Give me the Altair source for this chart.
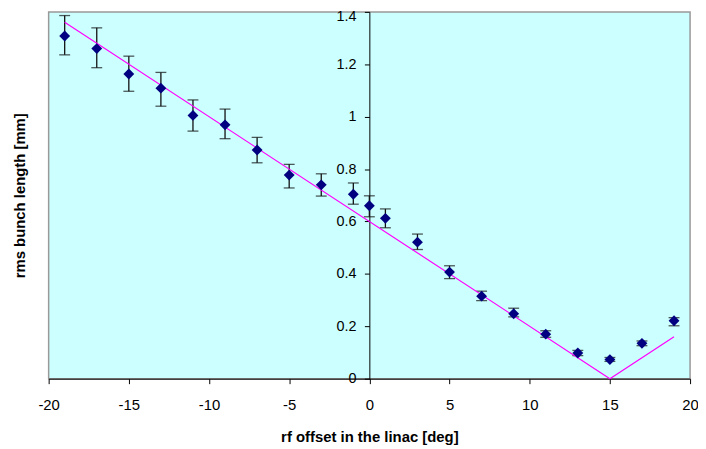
import altair as alt
import pandas as pd

# data
offset_deg = [-19, -17, -15, -13, -11, -9, -7, -5, -3, -1, 0, 1, 3, 5, 7, 9, 11, 13, 15, 17, 19]
bunch_len = [1.308, 1.260, 1.163, 1.109, 1.005, 0.969, 0.873, 0.777, 0.740, 0.704, 0.660,
             0.612, 0.521, 0.407, 0.315, 0.248, 0.170, 0.098, 0.073, 0.135, 0.221]
err_hi = [1.386, 1.339, 1.231, 1.169, 1.064, 1.029, 0.921, 0.818, 0.782, 0.747, 0.698,
          0.648, 0.552, 0.431, 0.334, 0.269, 0.183, 0.108, 0.081, 0.144, 0.233]
err_lo = [1.236, 1.187, 1.097, 1.040, 0.945, 0.916, 0.824, 0.728, 0.697, 0.666, 0.618,
          0.576, 0.493, 0.382, 0.298, 0.236, 0.158, 0.088, 0.066, 0.126, 0.202]
fit_x = [-19, 15, 19]
fit_y = [1.36, 0.0, 0.16]
x_ticks = [-20, -15, -10, -5, 0, 5, 10, 15, 20]
y_ticks = [0, 0.2, 0.4, 0.6, 0.8, 1.0, 1.2, 1.4]

df = pd.DataFrame({"x": offset_deg, "y": bunch_len, "hi": err_hi, "lo": err_lo})
fit = pd.DataFrame({"x": fit_x, "y": fit_y})

FONT = "Liberation Sans, Arial, Helvetica, sans-serif"
W, H = 647, 370

xscale = alt.Scale(domain=[-20, 20], nice=False, zero=False)
yscale = alt.Scale(domain=[0, 1.4], nice=False, zero=False)

xaxis = alt.Axis(
    orient="bottom", values=x_ticks, labelExpr="'' + datum.value", grid=False,
    tickSize=5, tickColor="black", domainColor="black", labelColor="black",
    labelFont=FONT, labelFontSize=15, labelPadding=14, labelFlush=False,
    labelOverlap=False, labelBound=False,
    title="rf offset in the linac [deg]", titleFont=FONT, titleFontSize=15,
    titleFontWeight="bold", titleColor="black", titleY=58, titleBaseline="middle",
)
yaxis = alt.Axis(
    orient="left", offset=-(W / 2), values=y_ticks, format=".1~f", grid=False,
    tickSize=5, tickColor="black", domainColor="black", labelColor="black",
    labelFont=FONT, labelFontSize=14.5, labelPadding=8.5, labelFlush=False,
    labelOverlap=False, labelBound=False,
    labelOffset={"condition": {"test": "datum.value > 1.39", "value": 5}, "value": 0},
    title="rms bunch length [mm]", titleFont=FONT, titleFontSize=15,
    titleFontWeight="bold", titleColor="black", titleAngle=270,
    titleX=-(W / 2) - 29, titleY=H / 2, titleAlign="center", titleBaseline="middle",
)

bars = alt.Chart(df).mark_rule(color="#111111", strokeWidth=1.3).encode(
    x=alt.X("x:Q", scale=xscale, axis=xaxis),
    y=alt.Y("lo:Q", scale=yscale, axis=yaxis),
    y2="hi:Q",
)
cap_hi = alt.Chart(df).mark_tick(color="#111111", orient="horizontal", size=11, thickness=1.3).encode(
    x=alt.X("x:Q", scale=xscale, axis=xaxis),
    y=alt.Y("hi:Q", scale=yscale, axis=yaxis),
)
cap_lo = alt.Chart(df).mark_tick(color="#111111", orient="horizontal", size=11, thickness=1.3).encode(
    x=alt.X("x:Q", scale=xscale, axis=xaxis),
    y=alt.Y("lo:Q", scale=yscale, axis=yaxis),
)
line = alt.Chart(fit).mark_line(color="#FF00FF", strokeWidth=1.2).encode(
    x=alt.X("x:Q", scale=xscale, axis=xaxis),
    y=alt.Y("y:Q", scale=yscale, axis=yaxis),
)
pts = alt.Chart(df).mark_point(shape="diamond", filled=True, size=120, color="#000080", opacity=1).encode(
    x=alt.X("x:Q", scale=xscale, axis=xaxis),
    y=alt.Y("y:Q", scale=yscale, axis=yaxis),
)

chart = alt.layer(bars, cap_hi, cap_lo, line, pts).properties(
    width=W, height=H,
    autosize=alt.AutoSizeParams(type="none"),
    padding={"left": 41, "top": 2, "right": 8, "bottom": 69},
    background="white",
).configure_view(fill="#CCFFFF", stroke="#999999", strokeWidth=1.5)

chart.save("out.html", embed_options={"renderer": "svg", "actions": False})
